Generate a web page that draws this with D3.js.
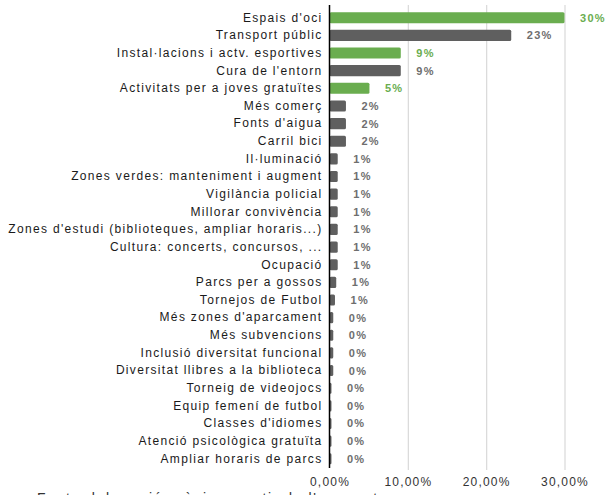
<!DOCTYPE html>
<html>
<head>
<meta charset="utf-8">
<script src="https://cdn.jsdelivr.net/npm/d3@7"></script>
<style>
  html, body { margin: 0; padding: 0; background: #fff; }
  svg { display: block; }
</style>
</head>
<body>
<svg id="chart" width="608" height="495"></svg>
<script>
const categories = [
  "Espais d'oci",
  "Transport públic",
  "Instal·lacions i actv. esportives",
  "Cura de l'entorn",
  "Activitats per a joves gratuïtes",
  "Més comerç",
  "Fonts d'aigua",
  "Carril bici",
  "Il·luminació",
  "Zones verdes: manteniment i augment",
  "Vigilància policial",
  "Millorar convivència",
  "Zones d'estudi (biblioteques, ampliar horaris...)",
  "Cultura: concerts, concursos, ...",
  "Ocupació",
  "Parcs per a gossos",
  "Tornejos de Futbol",
  "Més zones d'aparcament",
  "Més subvencions",
  "Inclusió diversitat funcional",
  "Diversitat llibres a la biblioteca",
  "Torneig de videojocs",
  "Equip femení de futbol",
  "Classes d'idiomes",
  "Atenció psicològica gratuïta",
  "Ampliar horaris de parcs"
];
const values = [30.0, 23.2, 9.1, 9.1, 5.1, 2.1, 2.1, 2.1, 1.05, 1.05, 1.05, 1.05, 1.05, 1.05, 1.05,
  0.86, 0.7, 0.48, 0.48, 0.48, 0.48, 0.25, 0.25, 0.25, 0.25, 0.25];
const valueLabels = ["30%", "23%", "9%", "9%", "5%", "2%", "2%", "2%", "1%", "1%", "1%", "1%", "1%", "1%", "1%",
  "1%", "1%", "0%", "0%", "0%", "0%", "0%", "0%", "0%", "0%", "0%"];
const highlighted = ["Espais d'oci", "Instal·lacions i actv. esportives", "Activitats per a joves gratuïtes"];
const xTicks = [0, 10, 20, 30];
const xTickLabels = ["0,00%", "10,00%", "20,00%", "30,00%"];
const sourceNote = "Font: elaboració pròpia a partir de l'enquesta";

const GREEN = "#6aad4f";
const GRAY = "#5f5f5f";

const svg = d3.select("#chart");
const data = categories.map((c, i) => ({ cat: c, v: values[i], lab: valueLabels[i], hl: highlighted.includes(c) }));

const x = d3.scaleLinear().domain([0, 30]).range([329.5, 564.5]);
const y = d3.scaleBand().domain(categories).range([9, 467.5]).paddingInner(0.37).paddingOuter(0.18);

// gridlines + tick labels
const xAxis = d3.axisBottom(x).tickValues(xTicks)
  .tickFormat((d, i) => xTickLabels[i])
  .tickSize(-465).tickPadding(7);
const gx = svg.append("g").attr("transform", "translate(0,470)").call(xAxis);
gx.select(".domain").remove();
gx.selectAll(".tick line").attr("stroke", "#d9d9d9").attr("stroke-width", 1.2);
gx.selectAll(".tick").filter(d => d === 0).select("line").remove();
gx.selectAll(".tick text")
  .attr("font-family", "'Liberation Sans', Arial, sans-serif")
  .attr("font-size", 12).attr("fill", "#333")
  .attr("letter-spacing", "1.2px");

// bars
svg.append("g").selectAll("rect").data(data).join("rect")
  .attr("x", x(0))
  .attr("y", d => y(d.cat))
  .attr("width", d => Math.max(0, x(d.v) - x(0)))
  .attr("height", y.bandwidth())
  .attr("rx", 1.5)
  .attr("fill", d => d.hl ? GREEN : GRAY);

// value labels
svg.append("g").selectAll("text").data(data).join("text")
  .attr("x", d => x(d.v) + 15.5)
  .attr("y", d => y(d.cat) + y.bandwidth() / 2)
  .attr("dy", "0.36em")
  .attr("font-family", "'Liberation Sans', Arial, sans-serif")
  .attr("font-size", 11).attr("font-weight", "bold")
  .attr("letter-spacing", "1.3px")
  .attr("fill", d => d.hl ? GREEN : "#6e6e6e")
  .text(d => d.lab);

// category axis
const yAxis = d3.axisLeft(y).tickSize(0).tickPadding(7);
const gy = svg.append("g").attr("transform", `translate(${x(0)},0)`).call(yAxis);
gy.select(".domain").attr("stroke", "#000").attr("stroke-width", 1.5)
  .attr("d", "M0,5V468");
gy.selectAll(".tick text")
  .attr("font-family", "'Liberation Sans', Arial, sans-serif")
  .attr("font-size", 12).attr("fill", "#1a1a1a")
  .attr("letter-spacing", "1.33px");

// source note (cut off at bottom, as in the reference)
svg.append("text")
  .attr("x", 37).attr("y", 503)
  .attr("font-family", "'Liberation Sans', Arial, sans-serif")
  .attr("font-size", 14).attr("fill", "#333")
  .attr("letter-spacing", "1.6px")
  .text(sourceNote);
</script>
</body>
</html>
